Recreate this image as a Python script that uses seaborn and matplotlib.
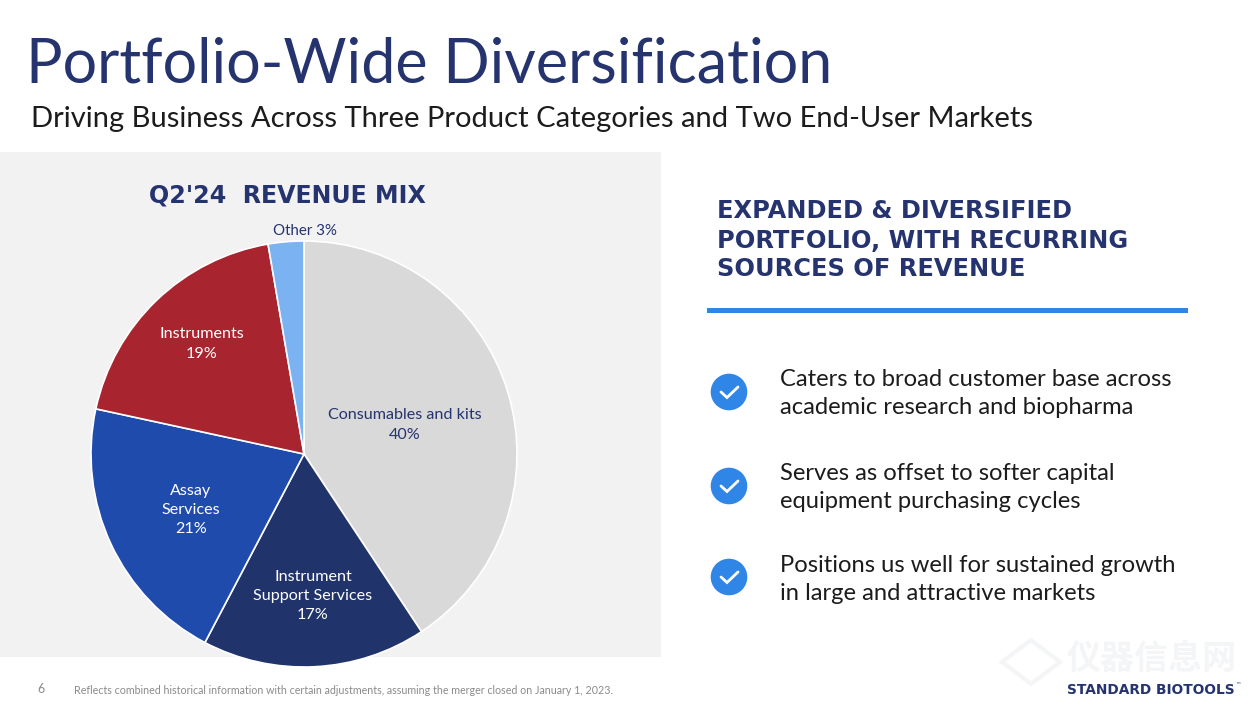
import matplotlib
matplotlib.use("Agg")
import matplotlib.pyplot as plt
from matplotlib.patches import Rectangle, Circle, Polygon
import seaborn as sns

sns.set_theme(style="white")
plt.rcParams['font.family'] = ['Lato', 'Noto Sans CJK SC', 'DejaVu Sans']

categories = ["Consumables and kits", "Instrument\nSupport Services", "Assay\nServices", "Instruments", "Other"]
shares = [40.7, 17.0, 20.7, 18.9, 2.7]
shown = ["40%", "17%", "21%", "19%", "3%"]
colors = sns.color_palette(["#d9d9d9", "#21336b", "#1f4bac", "#a8252f", "#7ab2f2"])
title = "Portfolio-Wide Diversification"
subtitle = "Driving Business Across Three Product Categories and Two End-User Markets"
panel_title = "Q2'24  REVENUE MIX"
heading = ["EXPANDED & DIVERSIFIED", "PORTFOLIO, WITH RECURRING", "SOURCES OF REVENUE"]
bullets = [("Caters to broad customer base across", "academic research and biopharma"),
           ("Serves as offset to softer capital", "equipment purchasing cycles"),
           ("Positions us well for sustained growth", "in large and attractive markets")]
footnote = "Reflects combined historical information with certain adjustments, assuming the merger closed on January 1, 2023."

W, H = 1255, 712
NAVY = "#25336f"
BLUE = "#2f86e6"
fig = plt.figure(figsize=(W / 100, H / 100), dpi=100, facecolor="white")
bg = fig.add_axes([0, 0, 1, 1], zorder=0)
bg.set_xlim(0, W); bg.set_ylim(H, 0); bg.axis("off")
bg.add_patch(Rectangle((0, 152), 661, 505, fc="#f2f2f2", ec="none"))

# pie
cx, cy, r = 304, 454, 213
ax = fig.add_axes([(cx - r) / W, 1 - (cy + r) / H, 2 * r / W, 2 * r / H], zorder=1)
ax.pie(shares, colors=colors, startangle=90, counterclock=False,
       wedgeprops=dict(edgecolor="white", linewidth=1.2))
ax.set_xlim(-1, 1); ax.set_ylim(-1, 1); ax.set_aspect("equal")

fg = fig.add_axes([0, 0, 1, 1], zorder=2)
fg.set_xlim(0, W); fg.set_ylim(H, 0); fg.axis("off"); fg.patch.set_alpha(0)

fg.text(26.5, 65, title, fontsize=43.9, color=NAVY, va="center", ha="left")
fg.text(31, 119, subtitle, fontsize=20.95, color="#1c1c1c", va="center", ha="left")
bold = ['DejaVu Sans']
fg.text(287, 196, panel_title, fontsize=17.1, color=NAVY, fontweight="bold", family=bold, va="center", ha="center")

txt = dict(fontsize=11.6, va="center", ha="center", linespacing=1.47)
fg.text(405, 425, f"{categories[0]}\n{shown[0]}", color=NAVY, **txt)
fg.text(313, 596, f"{categories[1]}\n{shown[1]}", color="white", **txt)
fg.text(191, 510, f"{categories[2]}\n{shown[2]}", color="white", **txt)
fg.text(202, 344, f"{categories[3]}\n{shown[3]}", color="white", **txt)
fg.text(305, 231, f"{categories[4]} {shown[4]}", color=NAVY, fontsize=10.8, va="center", ha="center")

# right column
for y, line in zip((211.5, 240.5, 269.5), heading):
    fg.text(717, y, line, fontsize=17.4, color=NAVY, fontweight="bold", family=bold, va="center", ha="left")
fg.add_patch(Rectangle((707, 308), 481, 5, fc=BLUE, ec="none"))

for yc, (a, b), y1, y2 in zip((392, 486, 577), bullets, (379, 473, 566), (408, 501, 594)):
    fg.add_patch(Circle((729, yc), 18.3, fc=BLUE, ec="none"))
    fg.plot([721, 727, 738], [yc, yc + 5.5, yc - 5], color="white", lw=2.0,
            solid_capstyle="round", solid_joinstyle="miter")
    fg.text(780, y1, a, fontsize=17.1, color="#1c1c1c", va="center", ha="left")
    fg.text(780, y2, b, fontsize=17.1, color="#1c1c1c", va="center", ha="left")

# footer
fg.text(41, 689, "6", fontsize=9, color="#8a8a8a", va="center", ha="center")
fg.text(74, 691, footnote, fontsize=7.65, color="#8a8a8a", va="center", ha="left")
fg.text(1067, 690, "STANDARD BIOTOOLS", fontsize=9.9, color=NAVY, fontweight="bold", family=bold, va="center", ha="left")
fg.text(1238, 686, "™", fontsize=4, color=NAVY, family=bold, va="center", ha="center")

# watermark
fg.add_patch(Polygon([(1031, 640), (1060, 662), (1031, 684), (1002, 662)], closed=True,
                     fc="none", ec="#f4f5f7", lw=3))
fg.text(1152, 659, "仪器信息网", fontsize=24.5, color="#f4f5f7", fontweight="bold", va="center", ha="center")

fig.savefig("out.png", dpi=100, facecolor="white")
